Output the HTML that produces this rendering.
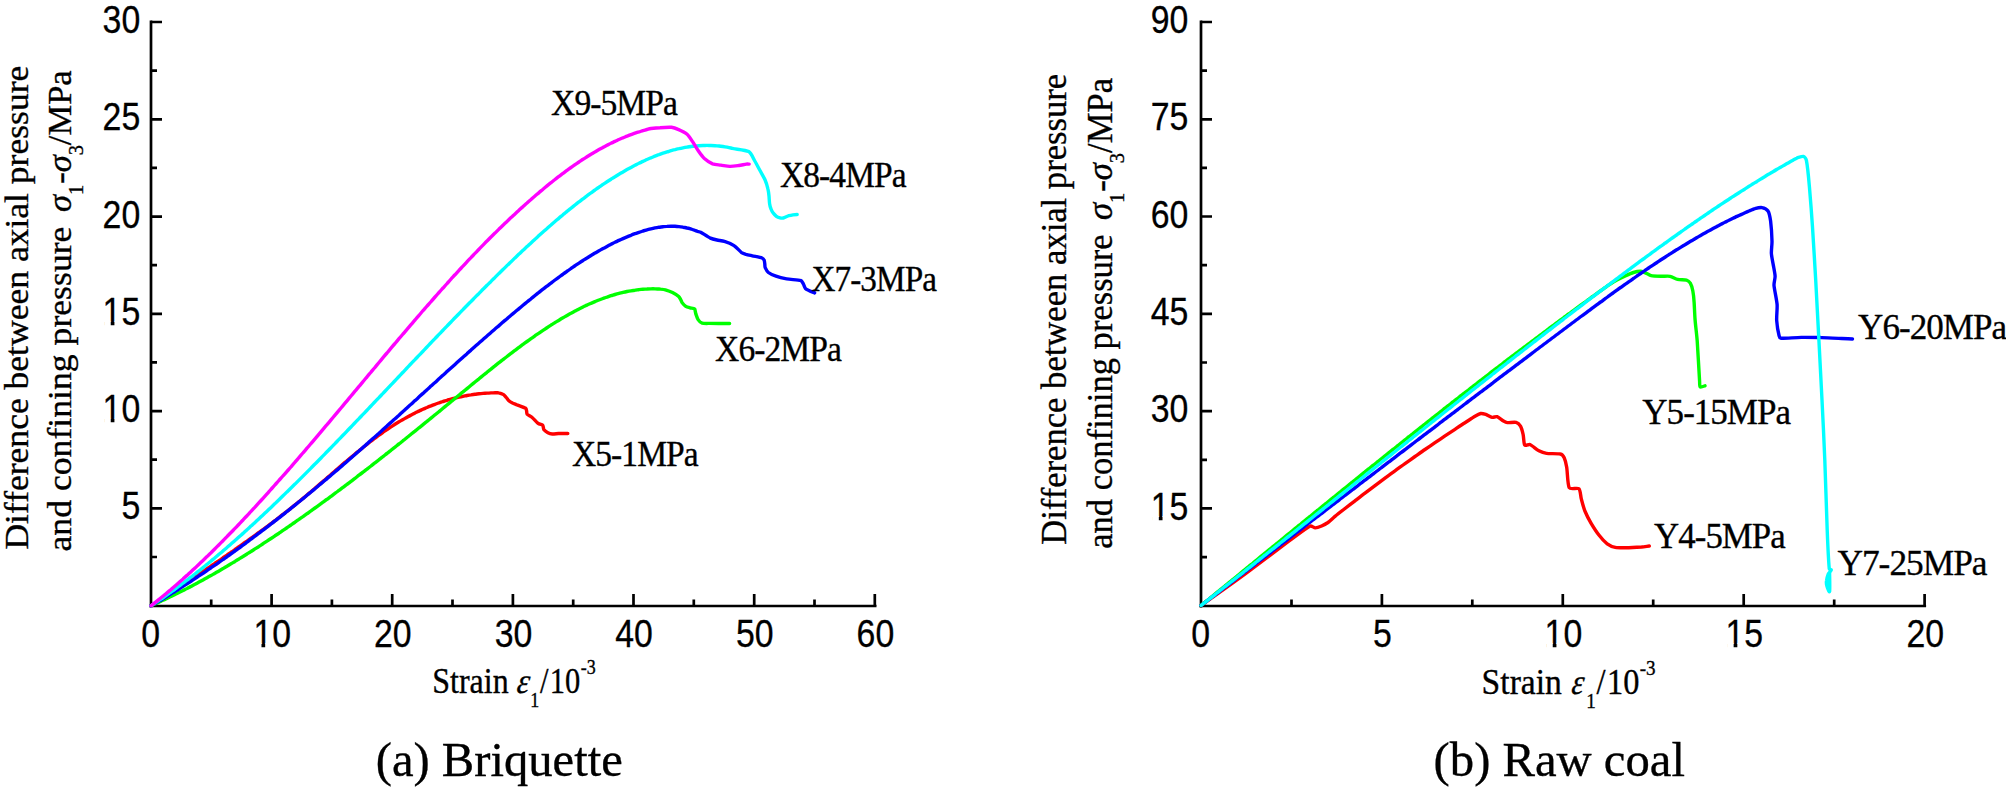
<!DOCTYPE html>
<html><head><meta charset="utf-8"><title>Stress-strain curves</title>
<style>
html,body{margin:0;padding:0;background:#fff;}
svg{display:block;}
.ar{font-family:"Liberation Sans",Arial,sans-serif;font-size:38px;fill:#000;stroke:#000;stroke-width:0.3px;}
.tm{font-family:"Liberation Serif","Times New Roman",serif;fill:#000;stroke:#000;stroke-width:0.35px;}
.it{font-style:italic;}
.cv path{fill:none;stroke-width:3.4;stroke-linejoin:round;stroke-linecap:round;}
.ax{stroke:#000;fill:none;}
</style></head><body>
<svg width="2006" height="791" viewBox="0 0 2006 791">
<rect width="2006" height="791" fill="#fff"/>

<g class="ax" stroke-width="2.7">
<path d="M151,20.5 V607.5"/>
<path d="M149.5,606 H876.5"/>
<path d="M271.6,606 V594 M392.2,606 V594 M512.9,606 V594 M633.5,606 V594 M754.2,606 V594 M874.8,606 V594 M211.2,606 V599.5 M331.9,606 V599.5 M452.5,606 V599.5 M573.2,606 V599.5 M693.8,606 V599.5 M814.5,606 V599.5 M151,508.3 H162 M151,411.1 H162 M151,313.8 H162 M151,216.6 H162 M151,119.3 H162 M151,22.0 H162 M151,557.0 H157 M151,459.7 H157 M151,362.4 H157 M151,265.2 H157 M151,167.9 H157 M151,70.7 H157 "/>
</g>
<g class="ax" stroke-width="2.7">
<path d="M1201,20.5 V607.5"/>
<path d="M1199.5,606 H1926.1"/>
<path d="M1381.9,606 V594 M1562.8,606 V594 M1743.7,606 V594 M1924.6,606 V594 M1291.5,606 V599.5 M1472.3,606 V599.5 M1653.2,606 V599.5 M1834.2,606 V599.5 M1201,508.4 H1212 M1201,411.1 H1212 M1201,313.8 H1212 M1201,216.5 H1212 M1201,119.3 H1212 M1201,22.0 H1212 M1201,557.1 H1207 M1201,459.8 H1207 M1201,362.5 H1207 M1201,265.2 H1207 M1201,167.9 H1207 M1201,70.6 H1207 "/>
</g>
<g class="ar">
<text transform="translate(150.6,646.6) scale(0.89,1)" text-anchor="middle">0</text>
<text transform="translate(272.2,646.6) scale(0.89,1)" text-anchor="middle">10</text>
<text transform="translate(392.8,646.6) scale(0.89,1)" text-anchor="middle">20</text>
<text transform="translate(513.5,646.6) scale(0.89,1)" text-anchor="middle">30</text>
<text transform="translate(634.1,646.6) scale(0.89,1)" text-anchor="middle">40</text>
<text transform="translate(754.8,646.6) scale(0.89,1)" text-anchor="middle">50</text>
<text transform="translate(875.4,646.6) scale(0.89,1)" text-anchor="middle">60</text>
<text transform="translate(140.2,519.4) scale(0.89,1)" text-anchor="end">5</text>
<text transform="translate(140.2,422.2) scale(0.89,1)" text-anchor="end">10</text>
<text transform="translate(140.2,324.9) scale(0.89,1)" text-anchor="end">15</text>
<text transform="translate(140.2,227.7) scale(0.89,1)" text-anchor="end">20</text>
<text transform="translate(140.2,130.4) scale(0.89,1)" text-anchor="end">25</text>
<text transform="translate(140.2,33.1) scale(0.89,1)" text-anchor="end">30</text>
<text transform="translate(1200.7,646.6) scale(0.89,1)" text-anchor="middle">0</text>
<text transform="translate(1382.5,646.6) scale(0.89,1)" text-anchor="middle">5</text>
<text transform="translate(1563.4,646.6) scale(0.89,1)" text-anchor="middle">10</text>
<text transform="translate(1744.3,646.6) scale(0.89,1)" text-anchor="middle">15</text>
<text transform="translate(1925.2,646.6) scale(0.89,1)" text-anchor="middle">20</text>
<text transform="translate(1188.3,519.5) scale(0.89,1)" text-anchor="end">15</text>
<text transform="translate(1188.3,422.2) scale(0.89,1)" text-anchor="end">30</text>
<text transform="translate(1188.3,324.9) scale(0.89,1)" text-anchor="end">45</text>
<text transform="translate(1188.3,227.6) scale(0.89,1)" text-anchor="end">60</text>
<text transform="translate(1188.3,130.4) scale(0.89,1)" text-anchor="end">75</text>
<text transform="translate(1188.3,33.1) scale(0.89,1)" text-anchor="end">90</text>
</g>
<path d="M254.99,643.15h6.50v5.2h-6.50z M265.18,643.15h6.51v5.2h-6.51z M104.23,418.73h6.50v5.2h-6.50z M114.42,418.73h6.51v5.2h-6.51z M104.23,321.47h6.50v5.2h-6.50z M114.42,321.47h6.51v5.2h-6.51z M1546.24,643.15h6.50v5.2h-6.50z M1556.43,643.15h6.51v5.2h-6.51z M1727.14,643.15h6.50v5.2h-6.50z M1737.33,643.15h6.51v5.2h-6.51z M1152.33,516.06h6.50v5.2h-6.50z M1162.52,516.06h6.51v5.2h-6.51z " fill="#fff"/>
<g class="cv">
<path d="M151.0,605.8 C151.5,605.5 153.9,603.9 155.0,603.2 C156.1,602.6 157.9,601.3 159.0,600.7 C160.1,600.0 161.9,598.8 163.0,598.1 C164.1,597.4 165.9,596.2 167.0,595.5 C168.1,594.8 169.9,593.5 171.0,592.8 C172.1,592.2 173.9,590.9 175.0,590.2 C176.1,589.5 177.9,588.3 179.0,587.6 C180.1,586.9 181.9,585.6 183.0,584.9 C184.1,584.2 185.9,583.0 187.0,582.3 C188.1,581.6 189.9,580.3 191.0,579.6 C192.1,578.9 193.9,577.6 195.0,576.9 C196.1,576.2 197.9,574.9 199.0,574.2 C200.1,573.5 201.9,572.2 203.0,571.5 C204.1,570.8 205.9,569.5 207.0,568.8 C208.1,568.1 209.9,566.8 211.0,566.1 C212.1,565.3 213.9,564.1 215.0,563.3 C216.1,562.6 217.9,561.3 219.0,560.6 C220.1,559.9 221.9,558.6 223.0,557.8 C224.1,557.1 225.9,555.8 227.0,555.1 C228.1,554.3 229.9,553.1 231.0,552.3 C232.1,551.6 233.9,550.3 235.0,549.5 C236.1,548.8 237.9,547.5 239.0,546.7 C240.1,546.0 241.9,544.7 243.0,543.9 C244.1,543.2 245.9,541.8 247.0,541.1 C248.1,540.3 249.9,539.0 251.0,538.2 C252.1,537.5 253.9,536.1 255.0,535.4 C256.1,534.6 257.9,533.2 259.0,532.4 C260.1,531.7 261.9,530.3 263.0,529.5 C264.1,528.7 265.9,527.4 267.0,526.6 C268.1,525.8 269.9,524.4 271.0,523.6 C272.1,522.8 273.9,521.4 275.0,520.6 C276.1,519.8 277.9,518.3 279.0,517.5 C280.1,516.7 281.9,515.2 283.0,514.4 C284.1,513.6 285.9,512.1 287.0,511.3 C288.1,510.5 289.9,509.0 291.0,508.1 C292.1,507.3 293.9,505.8 295.0,504.9 C296.1,504.1 297.9,502.5 299.0,501.7 C300.1,500.8 301.9,499.3 303.0,498.4 C304.1,497.5 305.9,495.9 307.0,495.0 C308.1,494.2 309.9,492.6 311.0,491.7 C312.1,490.8 313.9,489.2 315.0,488.3 C316.1,487.4 317.9,485.8 319.0,484.8 C320.1,483.9 321.9,482.3 323.0,481.4 C324.1,480.5 325.9,478.9 327.0,477.9 C328.1,477.0 329.9,475.4 331.0,474.5 C332.1,473.6 333.9,471.9 335.0,471.0 C336.1,470.1 337.9,468.5 339.0,467.6 C340.1,466.7 341.9,465.1 343.0,464.1 C344.1,463.2 345.9,461.6 347.0,460.7 C348.1,459.8 349.9,458.3 351.0,457.4 C352.1,456.5 353.9,454.9 355.0,454.0 C356.1,453.2 357.9,451.6 359.0,450.7 C360.1,449.9 361.9,448.4 363.0,447.5 C364.1,446.7 365.9,445.2 367.0,444.3 C368.1,443.5 369.9,442.0 371.0,441.2 C372.1,440.4 373.9,439.0 375.0,438.2 C376.1,437.4 377.9,436.0 379.0,435.2 C380.1,434.4 381.9,433.1 383.0,432.3 C384.1,431.6 385.9,430.3 387.0,429.6 C388.1,428.8 389.9,427.6 391.0,426.9 C392.1,426.2 393.9,425.0 395.0,424.3 C396.1,423.6 397.9,422.5 399.0,421.8 C400.1,421.2 401.9,420.1 403.0,419.5 C404.1,418.9 405.9,417.8 407.0,417.2 C408.1,416.6 409.9,415.6 411.0,415.1 C412.1,414.5 413.9,413.6 415.0,413.0 C416.1,412.5 417.9,411.6 419.0,411.1 C420.1,410.6 421.9,409.7 423.0,409.2 C424.1,408.8 425.9,407.9 427.0,407.5 C428.1,407.0 429.9,406.3 431.0,405.9 C432.1,405.4 433.9,404.7 435.0,404.3 C436.1,403.9 437.9,403.2 439.0,402.9 C440.1,402.5 441.9,401.9 443.0,401.5 C444.1,401.2 445.9,400.6 447.0,400.3 C448.1,400.0 449.9,399.4 451.0,399.1 C452.1,398.9 453.9,398.4 455.0,398.1 C456.1,397.8 457.9,397.4 459.0,397.2 C460.1,396.9 461.9,396.5 463.0,396.3 C464.1,396.1 465.9,395.7 467.0,395.5 C468.1,395.3 469.9,395.0 471.0,394.9 C472.1,394.7 473.9,394.4 475.0,394.3 C476.1,394.2 477.9,393.9 479.0,393.8 C480.1,393.7 481.9,393.5 483.0,393.4 C484.1,393.3 485.9,393.2 487.0,393.1 C488.1,393.1 489.9,393.0 491.0,392.9 C492.1,392.9 494.0,392.8 495.0,392.8 C496.0,392.8 497.7,392.6 498.6,392.8 C499.7,393.0 502.6,394.0 503.6,394.6 C504.5,395.2 505.6,396.7 506.3,397.5 C507.0,398.3 508.1,400.1 508.9,400.8 C509.7,401.5 511.5,402.5 512.5,403.0 C513.6,403.5 515.7,404.3 516.9,404.8 C518.7,405.5 524.5,407.5 525.8,408.3 C526.4,408.7 526.4,410.3 526.6,411.0 C526.8,411.8 526.6,413.5 527.1,414.1 C527.8,414.9 530.7,416.2 531.9,417.2 C533.4,418.4 536.7,422.3 538.1,423.4 C539.1,424.2 541.9,424.6 542.6,425.1 C543.1,425.5 543.1,426.7 543.3,427.3 C543.5,427.9 543.5,429.1 543.9,429.6 C544.5,430.3 546.8,432.1 547.9,432.7 C549.0,433.3 551.1,433.9 552.3,434.0 C553.7,434.1 556.8,433.6 558.5,433.5 C560.6,433.4 566.6,433.5 567.8,433.5" stroke="#ff0000"/>
<path d="M151.0,605.8 C151.5,605.6 153.9,604.5 155.0,604.0 C156.1,603.5 157.9,602.7 159.0,602.2 C160.1,601.7 161.9,600.8 163.0,600.3 C164.1,599.8 165.9,598.9 167.0,598.4 C168.1,597.9 169.9,597.0 171.0,596.5 C172.1,596.0 173.9,595.1 175.0,594.5 C176.1,594.0 177.9,593.1 179.0,592.5 C180.1,592.0 181.9,591.1 183.0,590.5 C184.1,590.0 185.9,589.0 187.0,588.5 C188.1,587.9 189.9,586.9 191.0,586.4 C192.1,585.8 193.9,584.8 195.0,584.3 C196.1,583.7 197.9,582.7 199.0,582.1 C200.1,581.5 201.9,580.5 203.0,579.9 C204.1,579.3 205.9,578.3 207.0,577.7 C208.1,577.1 209.9,576.1 211.0,575.5 C212.1,574.9 213.9,573.8 215.0,573.2 C216.1,572.6 217.9,571.5 219.0,570.9 C220.1,570.3 221.9,569.2 223.0,568.6 C224.1,567.9 225.9,566.8 227.0,566.2 C228.1,565.6 229.9,564.4 231.0,563.8 C232.1,563.2 233.9,562.0 235.0,561.4 C236.1,560.7 237.9,559.6 239.0,559.0 C240.1,558.3 241.9,557.1 243.0,556.5 C244.1,555.8 245.9,554.7 247.0,554.0 C248.1,553.3 249.9,552.1 251.0,551.5 C252.1,550.8 253.9,549.6 255.0,548.9 C256.1,548.2 257.9,547.0 259.0,546.4 C260.1,545.7 261.9,544.5 263.0,543.8 C264.1,543.1 265.9,541.8 267.0,541.1 C268.1,540.4 269.9,539.2 271.0,538.5 C272.1,537.8 273.9,536.6 275.0,535.8 C276.1,535.1 277.9,533.9 279.0,533.2 C280.1,532.4 281.9,531.2 283.0,530.4 C284.1,529.7 285.9,528.4 287.0,527.7 C288.1,527.0 289.9,525.7 291.0,525.0 C292.1,524.2 293.9,522.9 295.0,522.2 C296.1,521.4 297.9,520.1 299.0,519.4 C300.1,518.6 301.9,517.3 303.0,516.6 C304.1,515.8 305.9,514.5 307.0,513.7 C308.1,513.0 309.9,511.6 311.0,510.9 C312.1,510.1 313.9,508.8 315.0,508.0 C316.1,507.2 317.9,505.9 319.0,505.1 C320.1,504.3 321.9,503.0 323.0,502.2 C324.1,501.4 325.9,500.0 327.0,499.3 C328.1,498.5 329.9,497.1 331.0,496.3 C332.1,495.5 333.9,494.1 335.0,493.3 C336.1,492.6 337.9,491.2 339.0,490.4 C340.1,489.6 341.9,488.2 343.0,487.4 C344.1,486.6 345.9,485.2 347.0,484.4 C348.1,483.5 349.9,482.1 351.0,481.3 C352.1,480.5 353.9,479.1 355.0,478.3 C356.1,477.5 357.9,476.0 359.0,475.2 C360.1,474.4 361.9,473.0 363.0,472.1 C364.1,471.3 365.9,469.9 367.0,469.1 C368.1,468.2 369.9,466.8 371.0,466.0 C372.1,465.1 373.9,463.7 375.0,462.8 C376.1,462.0 377.9,460.6 379.0,459.7 C380.1,458.9 381.9,457.4 383.0,456.6 C384.1,455.7 385.9,454.3 387.0,453.4 C388.1,452.6 389.9,451.1 391.0,450.3 C392.1,449.4 393.9,447.9 395.0,447.1 C396.1,446.2 397.9,444.8 399.0,443.9 C400.1,443.1 401.9,441.6 403.0,440.7 C404.1,439.9 405.9,438.4 407.0,437.5 C408.1,436.7 409.9,435.2 411.0,434.3 C412.1,433.4 413.9,431.9 415.0,431.1 C416.1,430.2 417.9,428.7 419.0,427.8 C420.1,427.0 421.9,425.5 423.0,424.6 C424.1,423.7 425.9,422.2 427.0,421.4 C428.1,420.5 429.9,419.0 431.0,418.1 C432.1,417.2 433.9,415.7 435.0,414.8 C436.1,414.0 437.9,412.4 439.0,411.6 C440.1,410.7 441.9,409.2 443.0,408.3 C444.1,407.4 445.9,405.9 447.0,405.0 C448.1,404.1 449.9,402.6 451.0,401.7 C452.1,400.9 453.9,399.3 455.0,398.4 C456.1,397.6 457.9,396.0 459.0,395.2 C460.1,394.3 461.9,392.7 463.0,391.9 C464.1,391.0 465.9,389.5 467.0,388.6 C468.1,387.7 469.9,386.2 471.0,385.3 C472.1,384.4 473.9,382.9 475.0,382.0 C476.1,381.1 477.9,379.6 479.0,378.8 C480.1,377.9 481.9,376.4 483.0,375.5 C484.1,374.6 485.9,373.1 487.0,372.3 C488.1,371.4 489.9,369.9 491.0,369.1 C492.1,368.2 493.9,366.7 495.0,365.9 C496.1,365.0 497.9,363.5 499.0,362.7 C500.1,361.9 501.9,360.4 503.0,359.6 C504.1,358.7 505.9,357.3 507.0,356.5 C508.1,355.6 509.9,354.2 511.0,353.4 C512.1,352.6 513.9,351.2 515.0,350.4 C516.1,349.6 517.9,348.2 519.0,347.4 C520.1,346.6 521.9,345.2 523.0,344.4 C524.1,343.6 525.9,342.3 527.0,341.5 C528.1,340.7 529.9,339.4 531.0,338.6 C532.1,337.9 533.9,336.6 535.0,335.8 C536.1,335.1 537.9,333.8 539.0,333.1 C540.1,332.3 541.9,331.1 543.0,330.4 C544.1,329.7 545.9,328.4 547.0,327.7 C548.1,327.0 549.9,325.8 551.0,325.1 C552.1,324.5 553.9,323.3 555.0,322.6 C556.1,322.0 557.9,320.8 559.0,320.2 C560.1,319.5 561.9,318.4 563.0,317.8 C564.1,317.2 565.9,316.1 567.0,315.5 C568.1,314.9 569.9,313.8 571.0,313.3 C572.1,312.7 573.9,311.7 575.0,311.1 C576.1,310.5 577.9,309.6 579.0,309.0 C580.1,308.5 581.9,307.6 583.0,307.0 C584.1,306.5 585.9,305.6 587.0,305.1 C588.1,304.7 589.9,303.8 591.0,303.3 C592.1,302.9 593.9,302.1 595.0,301.6 C596.1,301.2 597.9,300.4 599.0,300.0 C600.1,299.6 601.9,298.9 603.0,298.5 C604.1,298.1 605.9,297.4 607.0,297.1 C608.1,296.7 609.9,296.1 611.0,295.7 C612.1,295.4 613.9,294.8 615.0,294.5 C616.1,294.2 617.9,293.7 619.0,293.4 C620.1,293.1 621.9,292.7 623.0,292.4 C624.1,292.2 625.9,291.8 627.0,291.5 C628.1,291.3 629.9,291.0 631.0,290.8 C632.1,290.6 633.9,290.3 635.0,290.2 C636.1,290.0 637.9,289.8 639.0,289.6 C640.1,289.5 641.9,289.3 643.0,289.2 C644.1,289.2 645.9,289.0 647.0,289.0 C648.1,288.9 649.9,288.9 651.0,288.9 C652.1,288.8 653.9,288.8 655.0,288.9 C656.1,288.9 658.3,289.0 659.0,289.0 C659.4,289.0 660.0,289.0 660.4,289.1 C661.3,289.2 664.1,289.5 665.4,289.9 C667.0,290.4 670.7,291.7 672.5,292.6 C674.2,293.5 677.6,295.5 678.7,296.5 C679.5,297.2 680.3,299.0 680.8,299.8 C681.2,300.5 681.7,302.0 682.2,302.7 C682.9,303.6 684.8,305.6 685.8,306.3 C686.8,307.0 688.9,307.5 690.0,307.8 C691.2,308.1 693.9,308.4 694.6,308.9 C695.2,309.3 695.1,310.8 695.3,311.5 C695.5,312.2 695.7,313.5 695.9,314.2 C696.3,315.3 697.3,318.4 698.1,319.6 C698.9,320.8 700.8,322.7 702.1,323.1 C703.6,323.6 707.6,323.4 709.6,323.4 C711.8,323.5 716.1,323.5 718.5,323.5 C721.2,323.5 728.1,323.5 729.6,323.5" stroke="#00ff00"/>
<path d="M151.0,605.8 C151.5,605.5 153.9,604.1 155.0,603.5 C156.1,602.8 157.9,601.7 159.0,601.1 C160.1,600.5 161.9,599.4 163.0,598.7 C164.1,598.1 165.9,596.9 167.0,596.3 C168.1,595.6 169.9,594.5 171.0,593.8 C172.1,593.2 173.9,592.0 175.0,591.4 C176.1,590.7 177.9,589.5 179.0,588.9 C180.1,588.2 181.9,587.0 183.0,586.3 C184.1,585.7 185.9,584.5 187.0,583.8 C188.1,583.1 189.9,581.9 191.0,581.2 C192.1,580.5 193.9,579.3 195.0,578.6 C196.1,577.9 197.9,576.6 199.0,575.9 C200.1,575.2 201.9,574.0 203.0,573.3 C204.1,572.5 205.9,571.3 207.0,570.6 C208.1,569.8 209.9,568.6 211.0,567.8 C212.1,567.1 213.9,565.8 215.0,565.1 C216.1,564.4 217.9,563.1 219.0,562.3 C220.1,561.6 221.9,560.3 223.0,559.5 C224.1,558.8 225.9,557.4 227.0,556.7 C228.1,555.9 229.9,554.6 231.0,553.8 C232.1,553.1 233.9,551.7 235.0,551.0 C236.1,550.2 237.9,548.8 239.0,548.1 C240.1,547.3 241.9,545.9 243.0,545.1 C244.1,544.4 245.9,543.0 247.0,542.2 C248.1,541.4 249.9,540.0 251.0,539.2 C252.1,538.4 253.9,537.0 255.0,536.2 C256.1,535.4 257.9,534.0 259.0,533.2 C260.1,532.4 261.9,531.0 263.0,530.2 C264.1,529.4 265.9,527.9 267.0,527.1 C268.1,526.3 269.9,524.9 271.0,524.0 C272.1,523.2 273.9,521.8 275.0,520.9 C276.1,520.1 277.9,518.6 279.0,517.8 C280.1,517.0 281.9,515.5 283.0,514.6 C284.1,513.8 285.9,512.3 287.0,511.5 C288.1,510.6 289.9,509.1 291.0,508.3 C292.1,507.4 293.9,505.9 295.0,505.1 C296.1,504.2 297.9,502.7 299.0,501.8 C300.1,501.0 301.9,499.4 303.0,498.6 C304.1,497.7 305.9,496.2 307.0,495.3 C308.1,494.4 309.9,492.9 311.0,492.0 C312.1,491.1 313.9,489.6 315.0,488.7 C316.1,487.8 317.9,486.2 319.0,485.3 C320.1,484.4 321.9,482.9 323.0,482.0 C324.1,481.1 325.9,479.5 327.0,478.6 C328.1,477.7 329.9,476.1 331.0,475.2 C332.1,474.3 333.9,472.7 335.0,471.8 C336.1,470.9 337.9,469.3 339.0,468.4 C340.1,467.5 341.9,465.8 343.0,464.9 C344.1,464.0 345.9,462.4 347.0,461.5 C348.1,460.5 349.9,458.9 351.0,458.0 C352.1,457.0 353.9,455.4 355.0,454.5 C356.1,453.5 357.9,451.9 359.0,451.0 C360.1,450.0 361.9,448.4 363.0,447.4 C364.1,446.5 365.9,444.8 367.0,443.9 C368.1,442.9 369.9,441.3 371.0,440.3 C372.1,439.4 373.9,437.7 375.0,436.8 C376.1,435.8 377.9,434.1 379.0,433.2 C380.1,432.2 381.9,430.6 383.0,429.6 C384.1,428.6 385.9,427.0 387.0,426.0 C388.1,425.0 389.9,423.3 391.0,422.4 C392.1,421.4 393.9,419.7 395.0,418.8 C396.1,417.8 397.9,416.1 399.0,415.2 C400.1,414.2 401.9,412.5 403.0,411.5 C404.1,410.6 405.9,408.9 407.0,407.9 C408.1,406.9 409.9,405.2 411.0,404.3 C412.1,403.3 413.9,401.6 415.0,400.6 C416.1,399.7 417.9,398.0 419.0,397.0 C420.1,396.0 421.9,394.3 423.0,393.4 C424.1,392.4 425.9,390.7 427.0,389.7 C428.1,388.8 429.9,387.1 431.0,386.1 C432.1,385.1 433.9,383.4 435.0,382.5 C436.1,381.5 437.9,379.8 439.0,378.8 C440.1,377.9 441.9,376.2 443.0,375.2 C444.1,374.3 445.9,372.6 447.0,371.6 C448.1,370.6 449.9,369.0 451.0,368.0 C452.1,367.0 453.9,365.4 455.0,364.4 C456.1,363.4 457.9,361.8 459.0,360.8 C460.1,359.8 461.9,358.2 463.0,357.2 C464.1,356.3 465.9,354.6 467.0,353.7 C468.1,352.7 469.9,351.0 471.0,350.1 C472.1,349.1 473.9,347.5 475.0,346.5 C476.1,345.6 477.9,343.9 479.0,343.0 C480.1,342.1 481.9,340.4 483.0,339.5 C484.1,338.6 485.9,336.9 487.0,336.0 C488.1,335.1 489.9,333.4 491.0,332.5 C492.1,331.6 493.9,329.9 495.0,329.0 C496.1,328.1 497.9,326.5 499.0,325.6 C500.1,324.7 501.9,323.1 503.0,322.1 C504.1,321.2 505.9,319.6 507.0,318.7 C508.1,317.8 509.9,316.2 511.0,315.3 C512.1,314.4 513.9,312.9 515.0,312.0 C516.1,311.1 517.9,309.5 519.0,308.6 C520.1,307.7 521.9,306.2 523.0,305.3 C524.1,304.4 525.9,302.9 527.0,302.0 C528.1,301.2 529.9,299.6 531.0,298.8 C532.1,297.9 533.9,296.4 535.0,295.5 C536.1,294.7 537.9,293.2 539.0,292.4 C540.1,291.5 541.9,290.0 543.0,289.2 C544.1,288.4 545.9,286.9 547.0,286.1 C548.1,285.3 549.9,283.9 551.0,283.1 C552.1,282.2 553.9,280.8 555.0,280.0 C556.1,279.2 557.9,277.9 559.0,277.1 C560.1,276.3 561.9,274.9 563.0,274.2 C564.1,273.4 565.9,272.1 567.0,271.3 C568.1,270.6 569.9,269.3 571.0,268.5 C572.1,267.8 573.9,266.5 575.0,265.8 C576.1,265.1 577.9,263.8 579.0,263.1 C580.1,262.4 581.9,261.2 583.0,260.5 C584.1,259.8 585.9,258.6 587.0,258.0 C588.1,257.3 589.9,256.2 591.0,255.5 C592.1,254.9 593.9,253.7 595.0,253.1 C596.1,252.5 597.9,251.4 599.0,250.8 C600.1,250.2 601.9,249.1 603.0,248.5 C604.1,248.0 605.9,247.0 607.0,246.4 C608.1,245.8 609.9,244.9 611.0,244.3 C612.1,243.8 613.9,242.8 615.0,242.3 C616.1,241.8 617.9,240.9 619.0,240.4 C620.1,239.9 621.9,239.1 623.0,238.6 C624.1,238.1 625.9,237.3 627.0,236.9 C628.1,236.4 629.9,235.7 631.0,235.3 C632.1,234.8 633.9,234.1 635.0,233.7 C636.1,233.4 637.9,232.7 639.0,232.3 C640.1,232.0 641.9,231.4 643.0,231.0 C644.1,230.7 645.9,230.1 647.0,229.8 C648.1,229.6 649.9,229.1 651.0,228.8 C652.1,228.6 653.9,228.2 655.0,227.9 C656.1,227.7 657.9,227.4 659.0,227.2 C660.1,227.1 661.9,226.8 663.0,226.7 C664.1,226.6 665.9,226.4 667.0,226.4 C668.1,226.3 669.9,226.2 671.0,226.2 C672.1,226.2 673.9,226.3 675.0,226.3 C676.1,226.4 677.9,226.5 679.0,226.6 C680.1,226.7 681.9,227.0 683.0,227.2 C684.1,227.3 685.9,227.7 687.0,228.0 C688.1,228.2 689.9,228.7 691.0,229.0 C692.1,229.4 694.1,230.1 695.0,230.4 C695.7,230.6 696.8,231.2 697.5,231.4 C698.3,231.6 699.9,231.8 700.7,232.2 C702.4,233.1 708.2,237.1 710.4,238.1 C712.1,238.9 715.2,239.6 717.0,240.0 C718.9,240.4 722.5,240.7 724.4,241.3 C726.7,242.0 731.7,244.1 734.0,245.6 C736.3,247.1 740.0,251.4 741.6,252.6 C742.6,253.3 744.8,253.9 746.0,254.3 C747.4,254.7 750.6,255.4 752.3,255.8 C754.4,256.3 760.4,257.4 762.0,258.0 C762.7,258.3 763.8,259.4 764.1,260.1 C764.5,260.9 764.7,263.0 764.8,264.0 C764.9,265.0 764.8,266.7 765.2,267.6 C765.7,268.7 767.2,271.5 768.4,272.5 C769.8,273.6 773.9,275.5 776.0,276.2 C778.4,277.1 783.8,278.4 786.7,278.9 C790.0,279.5 798.5,279.8 800.7,280.5 C801.8,280.8 802.7,282.8 803.3,283.8 C803.9,284.9 804.7,287.7 805.5,288.6 C806.3,289.5 808.3,290.2 809.3,290.7 C810.5,291.3 813.9,292.6 814.6,292.9" stroke="#0000ff"/>
<path d="M151.0,605.8 C151.5,605.4 153.9,603.9 155.0,603.1 C156.1,602.4 157.9,601.2 159.0,600.4 C160.1,599.7 161.9,598.4 163.0,597.7 C164.1,597.0 165.9,595.7 167.0,594.9 C168.1,594.1 169.9,592.8 171.0,592.1 C172.1,591.3 173.9,589.9 175.0,589.2 C176.1,588.4 177.9,587.0 179.0,586.2 C180.1,585.4 181.9,584.0 183.0,583.2 C184.1,582.4 185.9,581.0 187.0,580.2 C188.1,579.4 189.9,577.9 191.0,577.1 C192.1,576.3 193.9,574.8 195.0,574.0 C196.1,573.1 197.9,571.7 199.0,570.8 C200.1,570.0 201.9,568.5 203.0,567.6 C204.1,566.7 205.9,565.2 207.0,564.3 C208.1,563.5 209.9,561.9 211.0,561.1 C212.1,560.2 213.9,558.6 215.0,557.7 C216.1,556.8 217.9,555.3 219.0,554.3 C220.1,553.4 221.9,551.9 223.0,550.9 C224.1,550.0 225.9,548.4 227.0,547.5 C228.1,546.6 229.9,544.9 231.0,544.0 C232.1,543.1 233.9,541.4 235.0,540.5 C236.1,539.6 237.9,537.9 239.0,536.9 C240.1,536.0 241.9,534.3 243.0,533.4 C244.1,532.4 245.9,530.7 247.0,529.7 C248.1,528.8 249.9,527.1 251.0,526.1 C252.1,525.1 253.9,523.4 255.0,522.4 C256.1,521.4 257.9,519.7 259.0,518.7 C260.1,517.7 261.9,515.9 263.0,514.9 C264.1,513.9 265.9,512.2 267.0,511.2 C268.1,510.2 269.9,508.4 271.0,507.4 C272.1,506.4 273.9,504.6 275.0,503.6 C276.1,502.5 277.9,500.7 279.0,499.7 C280.1,498.7 281.9,496.9 283.0,495.8 C284.1,494.8 285.9,493.0 287.0,491.9 C288.1,490.9 289.9,489.1 291.0,488.0 C292.1,487.0 293.9,485.1 295.0,484.1 C296.1,483.0 297.9,481.2 299.0,480.1 C300.1,479.0 301.9,477.2 303.0,476.1 C304.1,475.0 305.9,473.2 307.0,472.1 C308.1,471.0 309.9,469.2 311.0,468.1 C312.1,467.0 313.9,465.1 315.0,464.0 C316.1,463.0 317.9,461.1 319.0,460.0 C320.1,458.9 321.9,457.0 323.0,455.9 C324.1,454.8 325.9,452.9 327.0,451.8 C328.1,450.7 329.9,448.8 331.0,447.7 C332.1,446.6 333.9,444.7 335.0,443.6 C336.1,442.5 337.9,440.5 339.0,439.4 C340.1,438.3 341.9,436.4 343.0,435.3 C344.1,434.2 345.9,432.3 347.0,431.1 C348.1,430.0 349.9,428.1 351.0,427.0 C352.1,425.9 353.9,423.9 355.0,422.8 C356.1,421.7 357.9,419.7 359.0,418.6 C360.1,417.5 361.9,415.5 363.0,414.4 C364.1,413.3 365.9,411.3 367.0,410.2 C368.1,409.1 369.9,407.1 371.0,406.0 C372.1,404.9 373.9,402.9 375.0,401.8 C376.1,400.7 377.9,398.7 379.0,397.6 C380.1,396.5 381.9,394.5 383.0,393.4 C384.1,392.2 385.9,390.3 387.0,389.1 C388.1,388.0 389.9,386.1 391.0,384.9 C392.1,383.8 393.9,381.8 395.0,380.7 C396.1,379.6 397.9,377.6 399.0,376.5 C400.1,375.4 401.9,373.4 403.0,372.3 C404.1,371.1 405.9,369.2 407.0,368.0 C408.1,366.9 409.9,364.9 411.0,363.8 C412.1,362.7 413.9,360.7 415.0,359.6 C416.1,358.5 417.9,356.5 419.0,355.4 C420.1,354.3 421.9,352.3 423.0,351.2 C424.1,350.1 425.9,348.1 427.0,347.0 C428.1,345.9 429.9,343.9 431.0,342.8 C432.1,341.7 433.9,339.7 435.0,338.6 C436.1,337.5 437.9,335.5 439.0,334.4 C440.1,333.3 441.9,331.4 443.0,330.3 C444.1,329.2 445.9,327.2 447.0,326.1 C448.1,325.0 449.9,323.1 451.0,322.0 C452.1,320.9 453.9,318.9 455.0,317.8 C456.1,316.7 457.9,314.8 459.0,313.7 C460.1,312.6 461.9,310.7 463.0,309.6 C464.1,308.5 465.9,306.6 467.0,305.5 C468.1,304.4 469.9,302.5 471.0,301.5 C472.1,300.4 473.9,298.5 475.0,297.4 C476.1,296.3 477.9,294.4 479.0,293.4 C480.1,292.3 481.9,290.4 483.0,289.3 C484.1,288.3 485.9,286.4 487.0,285.3 C488.1,284.3 489.9,282.4 491.0,281.4 C492.1,280.3 493.9,278.4 495.0,277.4 C496.1,276.3 497.9,274.5 499.0,273.4 C500.1,272.4 501.9,270.6 503.0,269.5 C504.1,268.5 505.9,266.7 507.0,265.6 C508.1,264.6 509.9,262.8 511.0,261.8 C512.1,260.7 513.9,259.0 515.0,257.9 C516.1,256.9 517.9,255.1 519.0,254.1 C520.1,253.1 521.9,251.3 523.0,250.3 C524.1,249.3 525.9,247.6 527.0,246.6 C528.1,245.6 529.9,243.9 531.0,242.9 C532.1,241.9 533.9,240.2 535.0,239.2 C536.1,238.3 537.9,236.6 539.0,235.6 C540.1,234.6 541.9,233.0 543.0,232.0 C544.1,231.1 545.9,229.4 547.0,228.5 C548.1,227.5 549.9,225.9 551.0,225.0 C552.1,224.0 553.9,222.4 555.0,221.5 C556.1,220.6 557.9,219.0 559.0,218.1 C560.1,217.2 561.9,215.6 563.0,214.7 C564.1,213.9 565.9,212.3 567.0,211.4 C568.1,210.6 569.9,209.1 571.0,208.2 C572.1,207.3 573.9,205.9 575.0,205.0 C576.1,204.2 577.9,202.7 579.0,201.9 C580.1,201.1 581.9,199.6 583.0,198.8 C584.1,198.0 585.9,196.6 587.0,195.8 C588.1,195.0 589.9,193.6 591.0,192.9 C592.1,192.1 593.9,190.7 595.0,190.0 C596.1,189.2 597.9,187.9 599.0,187.2 C600.1,186.4 601.9,185.2 603.0,184.4 C604.1,183.7 605.9,182.5 607.0,181.8 C608.1,181.1 609.9,179.9 611.0,179.2 C612.1,178.5 613.9,177.3 615.0,176.7 C616.1,176.0 617.9,174.9 619.0,174.2 C620.1,173.6 621.9,172.5 623.0,171.9 C624.1,171.3 625.9,170.2 627.0,169.6 C628.1,169.0 629.9,168.0 631.0,167.4 C632.1,166.8 633.9,165.8 635.0,165.3 C636.1,164.8 637.9,163.8 639.0,163.3 C640.1,162.8 641.9,161.9 643.0,161.4 C644.1,160.9 645.9,160.0 647.0,159.5 C648.1,159.1 649.9,158.3 651.0,157.8 C652.1,157.4 653.9,156.6 655.0,156.2 C656.1,155.8 657.9,155.0 659.0,154.7 C660.1,154.3 661.9,153.6 663.0,153.2 C664.1,152.9 665.9,152.3 667.0,151.9 C668.1,151.6 669.9,151.0 671.0,150.7 C672.1,150.4 673.9,149.9 675.0,149.7 C676.1,149.4 677.9,148.9 679.0,148.7 C680.1,148.4 681.9,148.0 683.0,147.8 C684.1,147.6 685.9,147.3 687.0,147.1 C688.1,146.9 689.9,146.7 691.0,146.5 C692.1,146.4 693.9,146.2 695.0,146.0 C696.1,145.9 697.9,145.8 699.0,145.7 C700.1,145.6 701.9,145.5 703.0,145.5 C704.1,145.5 705.9,145.4 707.0,145.4 C708.1,145.4 709.9,145.5 711.0,145.5 C712.1,145.5 713.9,145.6 715.0,145.7 C716.1,145.8 717.9,145.9 719.0,146.0 C720.1,146.2 721.9,146.4 723.0,146.5 C724.1,146.7 725.9,147.0 727.0,147.2 C728.1,147.4 730.1,147.8 731.0,148.0 C731.8,148.2 733.2,148.5 734.0,148.7 C736.4,149.2 745.9,150.0 748.7,151.6 C751.3,153.1 753.3,158.5 754.8,161.0 C756.3,163.5 758.6,168.0 760.0,170.5 C761.3,173.0 763.9,177.3 765.0,179.8 C766.0,182.1 767.4,186.7 767.9,188.9 C768.4,190.8 768.8,194.1 769.0,196.0 C769.2,198.0 769.3,202.0 769.6,203.7 C769.8,205.1 770.5,207.8 771.0,209.0 C771.4,210.1 772.3,211.9 773.0,212.8 C773.7,213.8 775.5,215.6 776.4,216.3 C777.2,216.9 779.1,217.6 780.0,217.8 C780.8,218.0 782.4,218.2 783.2,218.0 C784.4,217.7 787.6,216.1 788.9,215.7 C790.0,215.4 791.9,215.0 793.0,214.8 C794.1,214.6 796.6,214.5 797.2,214.5" stroke="#00ffff"/>
<path d="M151.0,605.8 C151.5,605.4 153.9,603.5 155.0,602.6 C156.1,601.8 157.9,600.3 159.0,599.4 C160.1,598.6 161.9,597.0 163.0,596.2 C164.1,595.3 165.9,593.7 167.0,592.8 C168.1,591.9 169.9,590.4 171.0,589.5 C172.1,588.5 173.9,586.9 175.0,586.0 C176.1,585.1 177.9,583.5 179.0,582.5 C180.1,581.6 181.9,579.9 183.0,579.0 C184.1,578.0 185.9,576.3 187.0,575.4 C188.1,574.4 189.9,572.7 191.0,571.7 C192.1,570.7 193.9,569.0 195.0,568.0 C196.1,567.0 197.9,565.2 199.0,564.2 C200.1,563.2 201.9,561.4 203.0,560.4 C204.1,559.4 205.9,557.6 207.0,556.6 C208.1,555.5 209.9,553.7 211.0,552.7 C212.1,551.6 213.9,549.8 215.0,548.7 C216.1,547.7 217.9,545.8 219.0,544.7 C220.1,543.7 221.9,541.8 223.0,540.7 C224.1,539.6 225.9,537.7 227.0,536.6 C228.1,535.5 229.9,533.6 231.0,532.5 C232.1,531.4 233.9,529.5 235.0,528.4 C236.1,527.3 237.9,525.3 239.0,524.2 C240.1,523.1 241.9,521.1 243.0,520.0 C244.1,518.8 245.9,516.8 247.0,515.7 C248.1,514.6 249.9,512.5 251.0,511.4 C252.1,510.2 253.9,508.2 255.0,507.1 C256.1,505.9 257.9,503.9 259.0,502.7 C260.1,501.5 261.9,499.5 263.0,498.3 C264.1,497.1 265.9,495.1 267.0,493.9 C268.1,492.7 269.9,490.6 271.0,489.4 C272.1,488.2 273.9,486.1 275.0,484.9 C276.1,483.7 277.9,481.6 279.0,480.4 C280.1,479.2 281.9,477.1 283.0,475.9 C284.1,474.7 285.9,472.6 287.0,471.3 C288.1,470.1 289.9,468.0 291.0,466.8 C292.1,465.5 293.9,463.4 295.0,462.2 C296.1,460.9 297.9,458.8 299.0,457.5 C300.1,456.3 301.9,454.1 303.0,452.9 C304.1,451.6 305.9,449.5 307.0,448.2 C308.1,447.0 309.9,444.8 311.0,443.5 C312.1,442.3 313.9,440.1 315.0,438.8 C316.1,437.6 317.9,435.4 319.0,434.1 C320.1,432.9 321.9,430.7 323.0,429.4 C324.1,428.1 325.9,425.9 327.0,424.7 C328.1,423.4 329.9,421.2 331.0,419.9 C332.1,418.6 333.9,416.4 335.0,415.1 C336.1,413.9 337.9,411.7 339.0,410.4 C340.1,409.1 341.9,406.9 343.0,405.6 C344.1,404.3 345.9,402.1 347.0,400.8 C348.1,399.5 349.9,397.3 351.0,396.0 C352.1,394.7 353.9,392.5 355.0,391.2 C356.1,390.0 357.9,387.7 359.0,386.4 C360.1,385.2 361.9,382.9 363.0,381.6 C364.1,380.4 365.9,378.1 367.0,376.8 C368.1,375.6 369.9,373.3 371.0,372.1 C372.1,370.8 373.9,368.5 375.0,367.3 C376.1,366.0 377.9,363.8 379.0,362.5 C380.1,361.2 381.9,359.0 383.0,357.7 C384.1,356.4 385.9,354.2 387.0,353.0 C388.1,351.7 389.9,349.5 391.0,348.2 C392.1,346.9 393.9,344.7 395.0,343.5 C396.1,342.2 397.9,340.0 399.0,338.7 C400.1,337.5 401.9,335.3 403.0,334.0 C404.1,332.8 405.9,330.6 407.0,329.3 C408.1,328.1 409.9,325.9 411.0,324.6 C412.1,323.4 413.9,321.2 415.0,320.0 C416.1,318.7 417.9,316.6 419.0,315.3 C420.1,314.1 421.9,311.9 423.0,310.7 C424.1,309.5 425.9,307.3 427.0,306.1 C428.1,304.9 429.9,302.8 431.0,301.6 C432.1,300.3 433.9,298.2 435.0,297.0 C436.1,295.8 437.9,293.7 439.0,292.5 C440.1,291.3 441.9,289.2 443.0,288.0 C444.1,286.8 445.9,284.7 447.0,283.6 C448.1,282.4 449.9,280.3 451.0,279.1 C452.1,278.0 453.9,275.9 455.0,274.8 C456.1,273.6 457.9,271.6 459.0,270.4 C460.1,269.3 461.9,267.2 463.0,266.1 C464.1,265.0 465.9,263.0 467.0,261.8 C468.1,260.7 469.9,258.7 471.0,257.6 C472.1,256.5 473.9,254.5 475.0,253.4 C476.1,252.3 477.9,250.3 479.0,249.2 C480.1,248.1 481.9,246.2 483.0,245.1 C484.1,244.0 485.9,242.1 487.0,241.1 C488.1,240.0 489.9,238.1 491.0,237.0 C492.1,236.0 493.9,234.1 495.0,233.1 C496.1,232.0 497.9,230.2 499.0,229.1 C500.1,228.1 501.9,226.3 503.0,225.2 C504.1,224.2 505.9,222.4 507.0,221.4 C508.1,220.4 509.9,218.6 511.0,217.6 C512.1,216.6 513.9,214.9 515.0,213.9 C516.1,212.9 517.9,211.2 519.0,210.2 C520.1,209.2 521.9,207.5 523.0,206.6 C524.1,205.6 525.9,203.9 527.0,203.0 C528.1,202.0 529.9,200.4 531.0,199.5 C532.1,198.5 533.9,196.9 535.0,196.0 C536.1,195.1 537.9,193.5 539.0,192.6 C540.1,191.7 541.9,190.1 543.0,189.2 C544.1,188.3 545.9,186.8 547.0,185.9 C548.1,185.0 549.9,183.5 551.0,182.7 C552.1,181.8 553.9,180.3 555.0,179.5 C556.1,178.7 557.9,177.2 559.0,176.4 C560.1,175.6 561.9,174.2 563.0,173.4 C564.1,172.6 565.9,171.2 567.0,170.4 C568.1,169.6 569.9,168.3 571.0,167.5 C572.1,166.8 573.9,165.5 575.0,164.7 C576.1,164.0 577.9,162.7 579.0,162.0 C580.1,161.3 581.9,160.0 583.0,159.3 C584.1,158.7 585.9,157.5 587.0,156.8 C588.1,156.1 589.9,155.0 591.0,154.3 C592.1,153.7 593.9,152.6 595.0,151.9 C596.1,151.3 597.9,150.2 599.0,149.6 C600.1,149.0 601.9,148.0 603.0,147.4 C604.1,146.9 605.9,145.9 607.0,145.3 C608.1,144.8 609.9,143.8 611.0,143.3 C612.1,142.8 613.9,141.9 615.0,141.4 C616.1,140.9 617.9,140.0 619.0,139.5 C620.1,139.1 621.9,138.3 623.0,137.8 C624.1,137.4 625.9,136.6 627.0,136.2 C628.1,135.7 629.9,135.0 631.0,134.6 C632.1,134.2 633.9,133.6 635.0,133.2 C636.1,132.8 637.9,132.2 639.0,131.9 C640.1,131.5 641.9,131.0 643.0,130.6 C644.1,130.3 645.9,129.8 647.0,129.5 C648.1,129.2 649.9,128.7 651.0,128.5 C652.7,128.3 657.6,127.8 660.0,127.7 C662.7,127.5 669.1,127.1 671.5,127.3 C673.3,127.5 676.4,128.6 678.1,129.4 C680.2,130.3 685.1,132.6 687.1,134.3 C689.1,136.0 691.4,140.0 692.9,142.1 C694.4,144.4 697.1,149.0 698.6,151.2 C700.0,153.2 702.6,156.8 704.4,158.5 C706.3,160.2 710.4,163.0 712.6,163.9 C714.7,164.7 718.6,164.8 720.8,165.1 C723.1,165.4 727.4,166.3 729.8,166.4 C732.2,166.5 736.7,165.8 738.9,165.5 C740.9,165.2 744.9,164.3 746.3,164.1 C747.1,164.0 748.8,164.1 749.2,164.1" stroke="#ff00ff"/>
<path d="M1201.0,605.5 C1207.1,601.2 1234.9,581.5 1246.6,572.9 C1258.0,564.5 1280.6,547.3 1289.1,541.0 C1294.7,536.9 1306.7,527.7 1310.2,526.0 C1311.5,525.4 1313.8,527.9 1315.3,527.9 C1316.8,527.9 1320.0,526.7 1321.6,526.0 C1323.3,525.3 1326.4,523.6 1328.0,522.5 C1329.8,521.2 1333.1,518.0 1335.0,516.4 C1337.3,514.5 1342.3,510.6 1345.0,508.5 C1347.7,506.4 1352.3,502.9 1355.0,500.8 C1357.7,498.7 1362.3,495.1 1365.0,493.1 C1367.7,491.1 1372.3,487.6 1375.0,485.6 C1377.7,483.6 1382.3,480.1 1385.0,478.1 C1387.7,476.1 1392.3,472.7 1395.0,470.8 C1397.7,468.9 1402.3,465.5 1405.0,463.6 C1407.7,461.7 1412.3,458.4 1415.0,456.5 C1417.7,454.6 1422.3,451.3 1425.0,449.5 C1427.7,447.7 1432.3,444.5 1435.0,442.7 C1437.7,440.9 1442.3,437.7 1445.0,435.9 C1447.7,434.1 1452.3,431.1 1455.0,429.3 C1457.7,427.5 1462.3,424.4 1465.0,422.7 C1467.7,421.0 1472.9,417.5 1475.0,416.3 C1476.5,415.4 1479.3,413.8 1480.7,413.5 C1482.1,413.3 1484.5,414.0 1485.8,414.4 C1487.3,414.9 1490.6,417.0 1492.1,417.3 C1493.4,417.6 1495.8,416.3 1497.1,416.7 C1498.6,417.2 1502.1,420.3 1503.5,421.1 C1504.4,421.6 1506.2,422.5 1507.3,422.6 C1509.0,422.8 1514.3,421.9 1516.1,422.4 C1517.6,422.8 1519.7,424.9 1520.5,426.2 C1521.4,427.8 1522.6,432.2 1523.1,434.4 C1523.7,436.9 1523.8,443.8 1524.7,445.1 C1525.5,446.3 1528.7,444.0 1530.0,444.5 C1531.9,445.3 1536.7,449.6 1538.9,450.8 C1540.8,451.8 1544.4,453.1 1546.5,453.4 C1549.4,453.8 1558.0,453.4 1560.4,454.0 C1561.8,454.3 1563.6,456.5 1564.2,457.8 C1565.0,459.6 1566.3,464.7 1566.7,467.3 C1567.4,471.3 1567.6,484.8 1569.2,487.7 C1570.5,490.0 1577.3,487.3 1578.9,488.8 C1580.5,490.3 1580.6,496.2 1581.3,498.9 C1582.1,501.9 1583.6,507.9 1584.9,511.0 C1586.2,514.2 1589.2,520.0 1591.0,523.1 C1592.9,526.3 1596.9,532.5 1599.1,535.3 C1601.0,537.8 1605.0,542.2 1607.2,543.8 C1609.1,545.2 1613.0,546.9 1615.3,547.4 C1617.7,547.9 1622.7,547.8 1625.4,547.8 C1628.9,547.7 1638.4,547.2 1641.6,547.0 C1643.7,546.8 1648.3,546.1 1649.3,546.0" stroke="#ff0000"/>
<path d="M1201.0,605.5 C1201.5,605.1 1203.9,603.1 1205.0,602.2 C1206.1,601.4 1207.9,599.8 1209.0,599.0 C1210.1,598.1 1211.9,596.6 1213.0,595.7 C1214.1,594.8 1215.9,593.3 1217.0,592.4 C1218.1,591.5 1219.9,590.0 1221.0,589.1 C1222.1,588.3 1223.9,586.7 1225.0,585.9 C1226.1,585.0 1227.9,583.5 1229.0,582.6 C1230.1,581.7 1231.9,580.2 1233.0,579.3 C1234.1,578.5 1235.9,576.9 1237.0,576.1 C1238.1,575.2 1239.9,573.7 1241.0,572.8 C1242.1,571.9 1243.9,570.4 1245.0,569.5 C1246.1,568.6 1247.9,567.1 1249.0,566.2 C1250.1,565.4 1251.9,563.8 1253.0,563.0 C1254.1,562.1 1255.9,560.6 1257.0,559.7 C1258.1,558.8 1259.9,557.3 1261.0,556.4 C1262.1,555.5 1263.9,554.0 1265.0,553.1 C1266.1,552.3 1267.9,550.8 1269.0,549.9 C1270.1,549.0 1271.9,547.5 1273.0,546.6 C1274.1,545.7 1275.9,544.2 1277.0,543.3 C1278.1,542.5 1279.9,540.9 1281.0,540.1 C1282.1,539.2 1283.9,537.7 1285.0,536.8 C1286.1,535.9 1287.9,534.4 1289.0,533.5 C1290.1,532.7 1291.9,531.2 1293.0,530.3 C1294.1,529.4 1295.9,527.9 1297.0,527.0 C1298.1,526.2 1299.9,524.6 1301.0,523.8 C1302.1,522.9 1303.9,521.4 1305.0,520.5 C1306.1,519.6 1307.9,518.1 1309.0,517.2 C1310.1,516.4 1311.9,514.9 1313.0,514.0 C1314.1,513.1 1315.9,511.6 1317.0,510.7 C1318.1,509.9 1319.9,508.4 1321.0,507.5 C1322.1,506.6 1323.9,505.1 1325.0,504.2 C1326.1,503.4 1327.9,501.9 1329.0,501.0 C1330.1,500.1 1331.9,498.6 1333.0,497.7 C1334.1,496.9 1335.9,495.4 1337.0,494.5 C1338.1,493.6 1339.9,492.1 1341.0,491.3 C1342.1,490.4 1343.9,488.9 1345.0,488.0 C1346.1,487.2 1347.9,485.7 1349.0,484.8 C1350.1,483.9 1351.9,482.4 1353.0,481.6 C1354.1,480.7 1355.9,479.2 1357.0,478.3 C1358.1,477.5 1359.9,476.0 1361.0,475.1 C1362.1,474.2 1363.9,472.7 1365.0,471.9 C1366.1,471.0 1367.9,469.5 1369.0,468.7 C1370.1,467.8 1371.9,466.3 1373.0,465.4 C1374.1,464.6 1375.9,463.1 1377.0,462.2 C1378.1,461.4 1379.9,459.9 1381.0,459.0 C1382.1,458.2 1383.9,456.7 1385.0,455.8 C1386.1,455.0 1387.9,453.5 1389.0,452.6 C1390.1,451.8 1391.9,450.3 1393.0,449.4 C1394.1,448.6 1395.9,447.1 1397.0,446.2 C1398.1,445.4 1399.9,443.9 1401.0,443.0 C1402.1,442.2 1403.9,440.7 1405.0,439.8 C1406.1,439.0 1407.9,437.5 1409.0,436.7 C1410.1,435.8 1411.9,434.3 1413.0,433.5 C1414.1,432.6 1415.9,431.1 1417.0,430.3 C1418.1,429.5 1419.9,428.0 1421.0,427.1 C1422.1,426.3 1423.9,424.8 1425.0,424.0 C1426.1,423.1 1427.9,421.6 1429.0,420.8 C1430.1,420.0 1431.9,418.5 1433.0,417.6 C1434.1,416.8 1435.9,415.3 1437.0,414.5 C1438.1,413.7 1439.9,412.2 1441.0,411.3 C1442.1,410.5 1443.9,409.0 1445.0,408.2 C1446.1,407.4 1447.9,405.9 1449.0,405.1 C1450.1,404.2 1451.9,402.8 1453.0,401.9 C1454.1,401.1 1455.9,399.6 1457.0,398.8 C1458.1,398.0 1459.9,396.5 1461.0,395.7 C1462.1,394.9 1463.9,393.4 1465.0,392.6 C1466.1,391.7 1467.9,390.3 1469.0,389.5 C1470.1,388.6 1471.9,387.2 1473.0,386.4 C1474.1,385.5 1475.9,384.1 1477.0,383.3 C1478.1,382.4 1479.9,381.0 1481.0,380.2 C1482.1,379.3 1483.9,377.9 1485.0,377.1 C1486.1,376.2 1487.9,374.8 1489.0,374.0 C1490.1,373.2 1491.9,371.7 1493.0,370.9 C1494.1,370.1 1495.9,368.7 1497.0,367.8 C1498.1,367.0 1499.9,365.6 1501.0,364.8 C1502.1,364.0 1503.9,362.5 1505.0,361.7 C1506.1,360.9 1507.9,359.5 1509.0,358.7 C1510.1,357.9 1511.9,356.4 1513.0,355.6 C1514.1,354.8 1515.9,353.4 1517.0,352.6 C1518.1,351.8 1519.9,350.4 1521.0,349.6 C1522.1,348.8 1523.9,347.3 1525.0,346.5 C1526.1,345.7 1527.9,344.3 1529.0,343.5 C1530.1,342.7 1531.9,341.3 1533.0,340.5 C1534.1,339.7 1535.9,338.3 1537.0,337.5 C1538.1,336.7 1539.9,335.3 1541.0,334.5 C1542.1,333.7 1543.9,332.3 1545.0,331.5 C1546.1,330.7 1547.9,329.3 1549.0,328.5 C1550.1,327.8 1551.9,326.4 1553.0,325.6 C1554.1,324.8 1555.9,323.4 1557.0,322.6 C1558.1,321.8 1559.9,320.4 1561.0,319.6 C1562.1,318.9 1563.9,317.5 1565.0,316.7 C1566.1,315.9 1567.9,314.5 1569.0,313.8 C1570.1,313.0 1571.9,311.6 1573.0,310.8 C1574.1,310.0 1575.9,308.7 1577.0,307.9 C1578.1,307.1 1579.9,305.8 1581.0,305.0 C1582.1,304.2 1583.9,302.8 1585.0,302.1 C1586.1,301.3 1587.9,299.9 1589.0,299.2 C1590.1,298.4 1591.9,297.0 1593.0,296.3 C1594.1,295.5 1595.9,294.2 1597.0,293.4 C1598.1,292.6 1599.9,291.3 1601.0,290.5 C1602.1,289.7 1604.1,288.3 1605.0,287.6 C1605.8,287.1 1607.2,286.0 1608.0,285.5 C1609.6,284.5 1614.5,281.4 1616.9,280.1 C1619.2,278.8 1623.6,276.6 1625.8,275.6 C1627.8,274.7 1631.4,273.1 1633.4,272.5 C1635.3,271.9 1639.2,271.1 1640.9,271.2 C1642.3,271.3 1644.7,272.5 1646.0,273.1 C1647.4,273.7 1649.6,275.3 1651.1,275.6 C1653.1,276.0 1658.7,276.2 1661.2,276.3 C1663.5,276.4 1667.8,275.9 1670.0,276.3 C1672.2,276.7 1675.5,278.9 1677.6,279.4 C1679.8,279.9 1684.8,279.6 1686.5,280.1 C1687.8,280.5 1689.6,282.1 1690.3,283.2 C1691.1,284.6 1692.4,288.7 1692.8,290.8 C1693.3,293.3 1693.9,299.1 1694.1,302.2 C1694.4,306.1 1694.7,315.3 1695.1,320.0 C1695.5,325.2 1696.8,335.3 1697.2,340.9 C1697.8,349.1 1699.2,375.2 1699.6,381.3 C1699.7,382.8 1699.5,386.4 1700.2,387.0 C1700.9,387.6 1704.4,386.0 1705.0,385.8" stroke="#00ff00"/>
<path d="M1201.0,605.5 C1201.5,605.1 1203.9,603.3 1205.0,602.5 C1206.1,601.6 1207.9,600.2 1209.0,599.4 C1210.1,598.6 1211.9,597.2 1213.0,596.3 C1214.1,595.5 1215.9,594.1 1217.0,593.3 C1218.1,592.5 1219.9,591.1 1221.0,590.2 C1222.1,589.4 1223.9,588.0 1225.0,587.2 C1226.1,586.4 1227.9,585.0 1229.0,584.1 C1230.1,583.3 1231.9,581.9 1233.0,581.1 C1234.1,580.3 1235.9,578.8 1237.0,578.0 C1238.1,577.2 1239.9,575.8 1241.0,575.0 C1242.1,574.2 1243.9,572.7 1245.0,571.9 C1246.1,571.1 1247.9,569.7 1249.0,568.9 C1250.1,568.0 1251.9,566.6 1253.0,565.8 C1254.1,565.0 1255.9,563.6 1257.0,562.7 C1258.1,561.9 1259.9,560.5 1261.0,559.7 C1262.1,558.9 1263.9,557.4 1265.0,556.6 C1266.1,555.8 1267.9,554.4 1269.0,553.6 C1270.1,552.8 1271.9,551.3 1273.0,550.5 C1274.1,549.7 1275.9,548.3 1277.0,547.5 C1278.1,546.6 1279.9,545.2 1281.0,544.4 C1282.1,543.6 1283.9,542.2 1285.0,541.3 C1286.1,540.5 1287.9,539.1 1289.0,538.3 C1290.1,537.5 1291.9,536.0 1293.0,535.2 C1294.1,534.4 1295.9,533.0 1297.0,532.2 C1298.1,531.3 1299.9,529.9 1301.0,529.1 C1302.1,528.3 1303.9,526.9 1305.0,526.0 C1306.1,525.2 1307.9,523.8 1309.0,523.0 C1310.1,522.2 1311.9,520.7 1313.0,519.9 C1314.1,519.1 1315.9,517.7 1317.0,516.9 C1318.1,516.1 1319.9,514.6 1321.0,513.8 C1322.1,513.0 1323.9,511.6 1325.0,510.8 C1326.1,509.9 1327.9,508.5 1329.0,507.7 C1330.1,506.9 1331.9,505.4 1333.0,504.6 C1334.1,503.8 1335.9,502.4 1337.0,501.6 C1338.1,500.8 1339.9,499.3 1341.0,498.5 C1342.1,497.7 1343.9,496.3 1345.0,495.5 C1346.1,494.6 1347.9,493.2 1349.0,492.4 C1350.1,491.6 1351.9,490.2 1353.0,489.3 C1354.1,488.5 1355.9,487.1 1357.0,486.3 C1358.1,485.5 1359.9,484.0 1361.0,483.2 C1362.1,482.4 1363.9,481.0 1365.0,480.2 C1366.1,479.4 1367.9,477.9 1369.0,477.1 C1370.1,476.3 1371.9,474.9 1373.0,474.1 C1374.1,473.2 1375.9,471.8 1377.0,471.0 C1378.1,470.2 1379.9,468.8 1381.0,468.0 C1382.1,467.1 1383.9,465.7 1385.0,464.9 C1386.1,464.1 1387.9,462.7 1389.0,461.8 C1390.1,461.0 1391.9,459.6 1393.0,458.8 C1394.1,458.0 1395.9,456.6 1397.0,455.7 C1398.1,454.9 1399.9,453.5 1401.0,452.7 C1402.1,451.9 1403.9,450.5 1405.0,449.6 C1406.1,448.8 1407.9,447.4 1409.0,446.6 C1410.1,445.8 1411.9,444.4 1413.0,443.5 C1414.1,442.7 1415.9,441.3 1417.0,440.5 C1418.1,439.7 1419.9,438.3 1421.0,437.4 C1422.1,436.6 1423.9,435.2 1425.0,434.4 C1426.1,433.6 1427.9,432.2 1429.0,431.4 C1430.1,430.5 1431.9,429.1 1433.0,428.3 C1434.1,427.5 1435.9,426.1 1437.0,425.3 C1438.1,424.5 1439.9,423.0 1441.0,422.2 C1442.1,421.4 1443.9,420.0 1445.0,419.2 C1446.1,418.4 1447.9,416.9 1449.0,416.1 C1450.1,415.3 1451.9,413.9 1453.0,413.1 C1454.1,412.3 1455.9,410.9 1457.0,410.1 C1458.1,409.2 1459.9,407.8 1461.0,407.0 C1462.1,406.2 1463.9,404.8 1465.0,404.0 C1466.1,403.2 1467.9,401.8 1469.0,400.9 C1470.1,400.1 1471.9,398.7 1473.0,397.9 C1474.1,397.1 1475.9,395.7 1477.0,394.9 C1478.1,394.1 1479.9,392.7 1481.0,391.8 C1482.1,391.0 1483.9,389.6 1485.0,388.8 C1486.1,388.0 1487.9,386.6 1489.0,385.8 C1490.1,385.0 1491.9,383.6 1493.0,382.8 C1494.1,381.9 1495.9,380.5 1497.0,379.7 C1498.1,378.9 1499.9,377.5 1501.0,376.7 C1502.1,375.9 1503.9,374.5 1505.0,373.7 C1506.1,372.9 1507.9,371.5 1509.0,370.7 C1510.1,369.8 1511.9,368.4 1513.0,367.6 C1514.1,366.8 1515.9,365.4 1517.0,364.6 C1518.1,363.8 1519.9,362.4 1521.0,361.6 C1522.1,360.8 1523.9,359.4 1525.0,358.6 C1526.1,357.8 1527.9,356.4 1529.0,355.6 C1530.1,354.8 1531.9,353.4 1533.0,352.5 C1534.1,351.7 1535.9,350.3 1537.0,349.5 C1538.1,348.7 1539.9,347.3 1541.0,346.5 C1542.1,345.7 1543.9,344.3 1545.0,343.5 C1546.1,342.7 1547.9,341.3 1549.0,340.5 C1550.1,339.7 1551.9,338.3 1553.0,337.5 C1554.1,336.7 1555.9,335.3 1557.0,334.5 C1558.1,333.7 1559.9,332.3 1561.0,331.5 C1562.1,330.7 1563.9,329.3 1565.0,328.5 C1566.1,327.7 1567.9,326.3 1569.0,325.5 C1570.1,324.7 1571.9,323.3 1573.0,322.5 C1574.1,321.7 1575.9,320.3 1577.0,319.5 C1578.1,318.7 1579.9,317.3 1581.0,316.5 C1582.1,315.7 1583.9,314.4 1585.0,313.6 C1586.1,312.8 1587.9,311.4 1589.0,310.6 C1590.1,309.8 1591.9,308.4 1593.0,307.6 C1594.1,306.8 1595.9,305.5 1597.0,304.7 C1598.1,303.9 1599.9,302.5 1601.0,301.8 C1602.1,301.0 1603.9,299.6 1605.0,298.8 C1606.1,298.1 1607.9,296.7 1609.0,295.9 C1610.1,295.1 1611.9,293.8 1613.0,293.0 C1614.1,292.3 1615.9,290.9 1617.0,290.1 C1618.1,289.4 1619.9,288.0 1621.0,287.3 C1622.1,286.5 1623.9,285.2 1625.0,284.4 C1626.1,283.7 1627.9,282.4 1629.0,281.6 C1630.1,280.9 1631.9,279.6 1633.0,278.8 C1634.1,278.1 1635.9,276.8 1637.0,276.0 C1638.1,275.3 1639.9,274.0 1641.0,273.3 C1642.1,272.5 1643.9,271.3 1645.0,270.5 C1646.1,269.8 1647.9,268.5 1649.0,267.8 C1650.1,267.1 1651.9,265.8 1653.0,265.1 C1654.1,264.4 1655.9,263.2 1657.0,262.5 C1658.1,261.8 1659.9,260.5 1661.0,259.8 C1662.1,259.1 1663.9,257.9 1665.0,257.2 C1666.1,256.5 1667.9,255.3 1669.0,254.6 C1670.1,254.0 1671.9,252.8 1673.0,252.1 C1674.1,251.4 1675.9,250.2 1677.0,249.6 C1678.1,248.9 1679.9,247.8 1681.0,247.1 C1682.1,246.4 1683.9,245.3 1685.0,244.7 C1686.1,244.0 1687.9,242.9 1689.0,242.2 C1690.1,241.6 1691.9,240.5 1693.0,239.9 C1694.1,239.2 1695.9,238.2 1697.0,237.5 C1698.1,236.9 1699.9,235.8 1701.0,235.2 C1702.1,234.6 1703.9,233.6 1705.0,233.0 C1706.1,232.4 1707.9,231.3 1709.0,230.8 C1710.1,230.2 1711.9,229.2 1713.0,228.6 C1714.1,228.0 1715.9,227.0 1717.0,226.4 C1718.1,225.9 1719.9,224.9 1721.0,224.3 C1722.1,223.8 1723.9,222.8 1725.0,222.3 C1726.1,221.8 1727.9,220.8 1729.0,220.3 C1730.1,219.8 1731.9,218.9 1733.0,218.3 C1734.1,217.8 1735.9,216.9 1737.0,216.4 C1738.1,215.9 1739.9,215.1 1741.0,214.6 C1742.1,214.1 1743.9,213.3 1745.0,212.8 C1746.1,212.3 1747.9,211.5 1749.0,211.0 C1750.1,210.6 1752.2,209.6 1753.0,209.3 C1753.5,209.1 1754.3,208.7 1754.8,208.6 C1756.0,208.3 1760.1,207.3 1761.9,207.6 C1763.7,207.9 1767.0,209.4 1768.0,211.0 C1769.2,212.8 1770.2,218.3 1770.6,221.1 C1771.1,225.1 1771.9,237.0 1772.0,241.3 C1772.1,244.6 1771.2,250.3 1771.4,253.5 C1771.6,256.7 1772.9,262.6 1773.4,265.6 C1773.9,268.4 1775.0,273.6 1775.1,276.2 C1775.2,278.6 1773.8,282.9 1774.0,285.3 C1774.3,289.1 1776.7,299.8 1777.1,304.5 C1777.4,308.8 1776.4,316.5 1776.7,320.7 C1777.0,324.8 1778.5,333.5 1779.1,335.8 C1779.3,336.6 1780.2,338.2 1781.1,338.3 C1784.1,338.5 1795.9,337.5 1801.3,337.4 C1806.7,337.3 1816.2,337.5 1821.6,337.6 C1827.0,337.7 1837.7,338.3 1841.8,338.5 C1844.7,338.6 1851.1,338.9 1852.5,339.0" stroke="#0000ff"/>
<path d="M1201.0,605.5 C1201.5,605.1 1203.9,603.2 1205.0,602.4 C1206.1,601.5 1207.9,600.1 1209.0,599.2 C1210.1,598.4 1211.9,597.0 1213.0,596.1 C1214.1,595.3 1215.9,593.8 1217.0,593.0 C1218.1,592.1 1219.9,590.7 1221.0,589.8 C1222.1,589.0 1223.9,587.5 1225.0,586.7 C1226.1,585.9 1227.9,584.4 1229.0,583.6 C1230.1,582.7 1231.9,581.3 1233.0,580.4 C1234.1,579.6 1235.9,578.1 1237.0,577.3 C1238.1,576.4 1239.9,575.0 1241.0,574.1 C1242.1,573.3 1243.9,571.8 1245.0,571.0 C1246.1,570.1 1247.9,568.7 1249.0,567.8 C1250.1,567.0 1251.9,565.5 1253.0,564.6 C1254.1,563.8 1255.9,562.3 1257.0,561.5 C1258.1,560.6 1259.9,559.2 1261.0,558.3 C1262.1,557.5 1263.9,556.0 1265.0,555.2 C1266.1,554.3 1267.9,552.8 1269.0,552.0 C1270.1,551.1 1271.9,549.7 1273.0,548.8 C1274.1,548.0 1275.9,546.5 1277.0,545.6 C1278.1,544.8 1279.9,543.3 1281.0,542.5 C1282.1,541.6 1283.9,540.1 1285.0,539.3 C1286.1,538.4 1287.9,537.0 1289.0,536.1 C1290.1,535.3 1291.9,533.8 1293.0,532.9 C1294.1,532.1 1295.9,530.6 1297.0,529.8 C1298.1,528.9 1299.9,527.4 1301.0,526.6 C1302.1,525.7 1303.9,524.2 1305.0,523.4 C1306.1,522.5 1307.9,521.1 1309.0,520.2 C1310.1,519.4 1311.9,517.9 1313.0,517.0 C1314.1,516.2 1315.9,514.7 1317.0,513.8 C1318.1,513.0 1319.9,511.5 1321.0,510.6 C1322.1,509.8 1323.9,508.3 1325.0,507.5 C1326.1,506.6 1327.9,505.1 1329.0,504.3 C1330.1,503.4 1331.9,501.9 1333.0,501.1 C1334.1,500.2 1335.9,498.7 1337.0,497.9 C1338.1,497.0 1339.9,495.5 1341.0,494.7 C1342.1,493.8 1343.9,492.4 1345.0,491.5 C1346.1,490.7 1347.9,489.2 1349.0,488.3 C1350.1,487.5 1351.9,486.0 1353.0,485.1 C1354.1,484.3 1355.9,482.8 1357.0,481.9 C1358.1,481.1 1359.9,479.6 1361.0,478.7 C1362.1,477.9 1363.9,476.4 1365.0,475.5 C1366.1,474.7 1367.9,473.2 1369.0,472.4 C1370.1,471.5 1371.9,470.0 1373.0,469.2 C1374.1,468.3 1375.9,466.8 1377.0,466.0 C1378.1,465.1 1379.9,463.6 1381.0,462.8 C1382.1,461.9 1383.9,460.4 1385.0,459.6 C1386.1,458.7 1387.9,457.2 1389.0,456.4 C1390.1,455.5 1391.9,454.1 1393.0,453.2 C1394.1,452.4 1395.9,450.9 1397.0,450.0 C1398.1,449.2 1399.9,447.7 1401.0,446.8 C1402.1,446.0 1403.9,444.5 1405.0,443.6 C1406.1,442.8 1407.9,441.3 1409.0,440.5 C1410.1,439.6 1411.9,438.1 1413.0,437.3 C1414.1,436.4 1415.9,434.9 1417.0,434.1 C1418.1,433.2 1419.9,431.8 1421.0,430.9 C1422.1,430.1 1423.9,428.6 1425.0,427.7 C1426.1,426.9 1427.9,425.4 1429.0,424.5 C1430.1,423.7 1431.9,422.2 1433.0,421.4 C1434.1,420.5 1435.9,419.0 1437.0,418.2 C1438.1,417.3 1439.9,415.9 1441.0,415.0 C1442.1,414.2 1443.9,412.7 1445.0,411.8 C1446.1,411.0 1447.9,409.5 1449.0,408.7 C1450.1,407.8 1451.9,406.4 1453.0,405.5 C1454.1,404.7 1455.9,403.2 1457.0,402.3 C1458.1,401.5 1459.9,400.0 1461.0,399.2 C1462.1,398.3 1463.9,396.9 1465.0,396.0 C1466.1,395.2 1467.9,393.7 1469.0,392.9 C1470.1,392.0 1471.9,390.5 1473.0,389.7 C1474.1,388.9 1475.9,387.4 1477.0,386.6 C1478.1,385.7 1479.9,384.2 1481.0,383.4 C1482.1,382.6 1483.9,381.1 1485.0,380.3 C1486.1,379.4 1487.9,377.9 1489.0,377.1 C1490.1,376.3 1491.9,374.8 1493.0,374.0 C1494.1,373.1 1495.9,371.7 1497.0,370.8 C1498.1,370.0 1499.9,368.5 1501.0,367.7 C1502.1,366.9 1503.9,365.4 1505.0,364.6 C1506.1,363.7 1507.9,362.3 1509.0,361.4 C1510.1,360.6 1511.9,359.1 1513.0,358.3 C1514.1,357.5 1515.9,356.0 1517.0,355.2 C1518.1,354.4 1519.9,352.9 1521.0,352.1 C1522.1,351.2 1523.9,349.8 1525.0,349.0 C1526.1,348.1 1527.9,346.7 1529.0,345.8 C1530.1,345.0 1531.9,343.6 1533.0,342.7 C1534.1,341.9 1535.9,340.5 1537.0,339.6 C1538.1,338.8 1539.9,337.4 1541.0,336.5 C1542.1,335.7 1543.9,334.3 1545.0,333.4 C1546.1,332.6 1547.9,331.2 1549.0,330.3 C1550.1,329.5 1551.9,328.1 1553.0,327.3 C1554.1,326.4 1555.9,325.0 1557.0,324.2 C1558.1,323.4 1559.9,321.9 1561.0,321.1 C1562.1,320.3 1563.9,318.8 1565.0,318.0 C1566.1,317.2 1567.9,315.8 1569.0,315.0 C1570.1,314.1 1571.9,312.7 1573.0,311.9 C1574.1,311.1 1575.9,309.7 1577.0,308.8 C1578.1,308.0 1579.9,306.6 1581.0,305.8 C1582.1,305.0 1583.9,303.6 1585.0,302.7 C1586.1,301.9 1587.9,300.5 1589.0,299.7 C1590.1,298.9 1591.9,297.5 1593.0,296.7 C1594.1,295.9 1595.9,294.4 1597.0,293.6 C1598.1,292.8 1599.9,291.4 1601.0,290.6 C1602.1,289.8 1603.9,288.4 1605.0,287.6 C1606.1,286.8 1607.9,285.4 1609.0,284.6 C1610.1,283.8 1611.9,282.4 1613.0,281.6 C1614.1,280.8 1615.9,279.4 1617.0,278.6 C1618.1,277.8 1619.9,276.4 1621.0,275.6 C1622.1,274.8 1623.9,273.4 1625.0,272.6 C1626.1,271.8 1627.9,270.4 1629.0,269.6 C1630.1,268.8 1631.9,267.4 1633.0,266.6 C1634.1,265.8 1635.9,264.5 1637.0,263.7 C1638.1,262.9 1639.9,261.5 1641.0,260.7 C1642.1,259.9 1643.9,258.6 1645.0,257.8 C1646.1,257.0 1647.9,255.6 1649.0,254.9 C1650.1,254.1 1651.9,252.7 1653.0,251.9 C1654.1,251.2 1655.9,249.8 1657.0,249.0 C1658.1,248.3 1659.9,246.9 1661.0,246.1 C1662.1,245.4 1663.9,244.0 1665.0,243.2 C1666.1,242.5 1667.9,241.1 1669.0,240.4 C1670.1,239.6 1671.9,238.3 1673.0,237.5 C1674.1,236.8 1675.9,235.4 1677.0,234.7 C1678.1,233.9 1679.9,232.6 1681.0,231.8 C1682.1,231.1 1683.9,229.8 1685.0,229.0 C1686.1,228.3 1687.9,227.0 1689.0,226.2 C1690.1,225.5 1691.9,224.2 1693.0,223.5 C1694.1,222.7 1695.9,221.4 1697.0,220.7 C1698.1,219.9 1699.9,218.7 1701.0,217.9 C1702.1,217.2 1703.9,215.9 1705.0,215.2 C1706.1,214.5 1707.9,213.2 1709.0,212.5 C1710.1,211.8 1711.9,210.5 1713.0,209.8 C1714.1,209.1 1715.9,207.8 1717.0,207.1 C1718.1,206.4 1719.9,205.1 1721.0,204.4 C1722.1,203.7 1723.9,202.5 1725.0,201.8 C1726.1,201.1 1727.9,199.9 1729.0,199.2 C1730.1,198.5 1731.9,197.2 1733.0,196.6 C1734.1,195.9 1735.9,194.7 1737.0,194.0 C1738.1,193.3 1739.9,192.1 1741.0,191.4 C1742.1,190.7 1743.9,189.5 1745.0,188.9 C1746.1,188.2 1747.9,187.0 1749.0,186.3 C1750.1,185.7 1751.9,184.5 1753.0,183.8 C1754.1,183.2 1755.9,182.0 1757.0,181.4 C1758.1,180.7 1759.9,179.6 1761.0,178.9 C1762.1,178.3 1763.9,177.1 1765.0,176.5 C1766.1,175.8 1767.9,174.7 1769.0,174.1 C1770.1,173.4 1771.9,172.3 1773.0,171.7 C1774.1,171.1 1775.9,170.0 1777.0,169.3 C1778.1,168.7 1779.9,167.6 1781.0,167.0 C1782.1,166.4 1783.9,165.3 1785.0,164.7 C1786.1,164.1 1787.9,163.0 1789.0,162.4 C1790.1,161.8 1791.9,160.8 1793.0,160.2 C1794.1,159.6 1796.4,158.3 1797.0,158.0 C1797.1,157.9 1797.2,157.8 1797.3,157.8 C1798.2,157.6 1802.2,156.1 1803.4,156.4 C1804.6,156.7 1806.1,159.1 1806.4,160.4 C1807.2,164.4 1808.8,179.7 1809.4,186.7 C1810.2,195.6 1811.8,216.4 1812.5,227.2 C1813.3,239.6 1814.9,265.9 1815.7,280.0 C1817.0,303.0 1820.8,376.0 1822.0,400.0 C1822.8,416.0 1824.2,444.0 1824.8,460.0 C1825.5,477.3 1826.6,515.5 1827.2,530.0 C1827.6,540.4 1828.8,563.7 1829.3,569.0 C1829.4,569.6 1831.4,569.4 1831.3,570.0 C1831.2,570.7 1828.8,572.8 1828.3,574.0 C1827.7,575.5 1826.7,579.4 1826.5,581.0 C1826.3,582.3 1826.5,584.7 1826.9,586.0 C1827.3,587.4 1829.3,593.1 1829.6,591.5 C1830.0,589.8 1829.6,575.5 1829.6,573.0" stroke="#00ffff"/>
</g>
<text class="tm" font-size="36" transform="translate(551.07,114.9) scale(0.9333,1.0)"><tspan letter-spacing="-1.0">X9-5MPa</tspan></text>
<text class="tm" font-size="36" transform="translate(780.07,186.9) scale(0.9304,1.0)"><tspan letter-spacing="-1.0">X8-4MPa</tspan></text>
<text class="tm" font-size="36" transform="translate(811.48,291.3) scale(0.9230,1.0)"><tspan letter-spacing="-1.0">X7-3MPa</tspan></text>
<text class="tm" font-size="36" transform="translate(715.07,360.9) scale(0.9333,1.0)"><tspan letter-spacing="-1.0">X6-2MPa</tspan></text>
<text class="tm" font-size="36" transform="translate(571.97,465.8) scale(0.9319,1.0)"><tspan letter-spacing="-1.0">X5-1MPa</tspan></text>
<text class="tm" font-size="36" transform="translate(1858.10,339.1) scale(0.9732,1.0)"><tspan letter-spacing="-1.0">Y6-20MPa</tspan></text>
<text class="tm" font-size="36" transform="translate(1642.30,423.7) scale(0.9725,1.0)"><tspan letter-spacing="-1.0">Y5-15MPa</tspan></text>
<text class="tm" font-size="36" transform="translate(1654.10,547.6) scale(0.9684,1.0)"><tspan letter-spacing="-1.0">Y4-5MPa</tspan></text>
<text class="tm" font-size="36" transform="translate(1837.40,575.3) scale(0.9817,1.0)"><tspan letter-spacing="-1.0">Y7-25MPa</tspan></text>
<text class="tm" font-size="35.7" transform="translate(432.31,693.1) scale(0.8952,1.0)">Strain</text>
<text class="tm" font-size="35.7" font-style="italic" transform="translate(515.92,693.3) scale(0.8800,1.0) skewX(-9)">ε</text>
<text class="tm" font-size="35.7" transform="translate(530.19,693.1) scale(0.8554,1.0)"><tspan font-size="21" dy="13.8">1</tspan><tspan dy="-13.8" dx="1">/</tspan><tspan dx="1.5">10</tspan><tspan font-size="21" dy="-19" dx="0.5">-3</tspan></text>
<text class="tm" font-size="35.7" transform="translate(1481.62,694.2) scale(0.9410,1.0)">Strain</text>
<text class="tm" font-size="35.7" font-style="italic" transform="translate(1570.75,694.4) scale(0.8533,1.0) skewX(-9)">ε</text>
<text class="tm" font-size="35.7" transform="translate(1586.19,694.2) scale(0.9068,1.0)"><tspan font-size="21" dy="13.8">1</tspan><tspan dy="-13.8" dx="1">/</tspan><tspan dx="1.5">10</tspan><tspan font-size="21" dy="-19" dx="0.5">-3</tspan></text>
<text class="tm" font-size="48.5" transform="translate(375.69,776.0) scale(1.0029,1.0)">(a) Briquette</text>
<text class="tm" font-size="48.5" transform="translate(1433.59,776.0) scale(1.0036,1.0)">(b) Raw coal</text>
<text class="tm" font-size="35.5" transform="translate(27.5,549.60) rotate(-90) scale(1.0017,0.96)">Difference between axial pressure</text>
<text class="tm" font-size="35.5" transform="translate(70.9,551.51) rotate(-90) scale(1.0056,0.96)">and confining pressure</text>
<text class="tm" font-size="35.5" transform="translate(70.9,212.07) rotate(-90) scale(0.9729,0.96)"><tspan font-style="italic">σ</tspan><tspan font-size="21" dy="12.5">1</tspan><tspan dy="-12.5" dx="1">-</tspan><tspan font-style="italic">σ</tspan><tspan font-size="21" dy="12.5">3</tspan><tspan dy="-12.5">/MPa</tspan></text>
<text class="tm" font-size="35.5" transform="translate(1066.3,544.77) rotate(-90) scale(0.9746,0.98)">Difference between axial pressure</text>
<text class="tm" font-size="35.5" transform="translate(1112.0,548.87) rotate(-90) scale(0.9732,0.98)">and confining pressure</text>
<text class="tm" font-size="35.5" transform="translate(1112.0,220.08) rotate(-90) scale(0.9757,0.98)"><tspan font-style="italic">σ</tspan><tspan font-size="21" dy="12.5">1</tspan><tspan dy="-12.5" dx="1">-</tspan><tspan font-style="italic">σ</tspan><tspan font-size="21" dy="12.5">3</tspan><tspan dy="-12.5">/MPa</tspan></text>
</svg></body></html>
